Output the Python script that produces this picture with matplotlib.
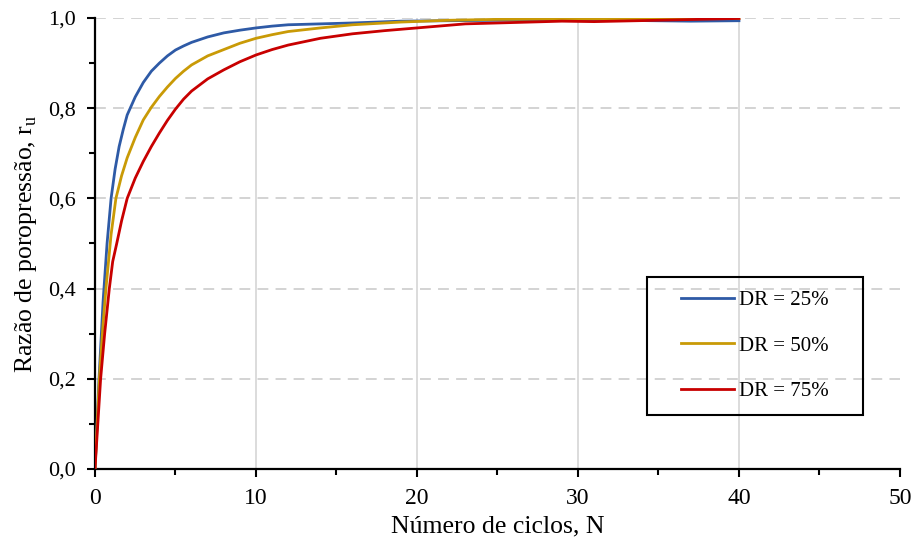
import matplotlib
matplotlib.use("Agg")
import matplotlib.pyplot as plt
from matplotlib.ticker import MultipleLocator, FuncFormatter
from matplotlib.patches import Rectangle

plt.rcParams['font.family'] = ['Liberation Serif', 'DejaVu Serif']
plt.rcParams['mathtext.fontset'] = 'custom'
plt.rcParams['mathtext.rm'] = 'Liberation Serif'

# DR = 25%
n_25 = [0, 0.1, 0.25, 0.5, 0.75, 1, 1.25, 1.5, 1.75, 2, 2.5, 3, 3.5, 4, 4.5, 5, 5.5, 6, 7, 8,
        9, 10, 11, 12, 14, 16, 19, 25, 30, 37, 40]
ru_25 = [0, 0.08, 0.2, 0.37, 0.5, 0.6, 0.665, 0.715, 0.752, 0.785, 0.825, 0.857, 0.882, 0.9,
         0.916, 0.929, 0.938, 0.946, 0.958, 0.967, 0.973, 0.978, 0.982, 0.985, 0.987, 0.989,
         0.993, 0.995, 0.996, 0.993, 0.994]
# DR = 50%
n_50 = [0, 0.27, 0.5, 0.68, 1.0, 1.3, 1.65, 2, 2.5, 3, 3.5, 4, 4.5, 5, 5.5, 6, 7, 8, 9, 10,
        11, 12, 14, 16, 19, 22, 25, 30, 35, 40]
ru_50 = [0, 0.2, 0.32, 0.4, 0.52, 0.6, 0.65, 0.69, 0.735, 0.774, 0.802, 0.826, 0.847, 0.866,
         0.882, 0.896, 0.916, 0.93, 0.944, 0.955, 0.963, 0.97, 0.978, 0.985, 0.991, 0.995,
         0.997, 0.998, 0.999, 0.999]
# DR = 75%
n_75 = [0, 0.35, 0.6, 0.89, 1.1, 1.35, 1.65, 2, 2.5, 3, 3.5, 4, 4.5, 5, 5.5, 6, 7, 8, 9, 10,
        11, 12, 14, 16, 18, 19, 20, 22, 23, 25, 29, 31, 35, 40]
ru_75 = [0, 0.2, 0.3, 0.4, 0.46, 0.5, 0.55, 0.6, 0.645, 0.682, 0.715, 0.745, 0.773, 0.798,
         0.82, 0.838, 0.865, 0.885, 0.903, 0.918, 0.93, 0.94, 0.955, 0.965, 0.972, 0.975,
         0.978, 0.984, 0.987, 0.989, 0.993, 0.992, 0.995, 0.999]

fig = plt.figure(figsize=(9.16, 5.44), dpi=100)
ax = fig.add_axes([0.1037, 0.1379, 0.8788, 0.829])

ax.plot(n_25, ru_25, color='#2E5AA6', lw=2, label='DR = 25%', zorder=3)
ax.plot(n_50, ru_50, color='#C99A06', lw=2, label='DR = 50%', zorder=3)
ax.plot(n_75, ru_75, color='#C80000', lw=2, label='DR = 75%', zorder=3)

ax.set_xlim(0, 50)
ax.set_ylim(0, 1)
ax.xaxis.set_major_locator(MultipleLocator(10))
ax.xaxis.set_minor_locator(MultipleLocator(5))
ax.yaxis.set_major_locator(MultipleLocator(0.2))
ax.yaxis.set_minor_locator(MultipleLocator(0.1))
ax.yaxis.set_major_formatter(FuncFormatter(lambda v, p: f'{v:.1f}'.replace('.', ',')))

# vertical solid / horizontal dashed gridlines, none on the axes edges
for xv in [10, 20, 30, 40]:
    ax.axvline(xv, color='#d9d9d9', lw=1.3, zorder=1)
for yv in [0.2, 0.4, 0.6, 0.8, 1.0]:
    ax.axhline(yv, color='#d0d0d0', lw=1.3, ls=(0, (6, 4)), zorder=1)

for s in ['top', 'right']:
    ax.spines[s].set_visible(False)
for s in ['left', 'bottom']:
    ax.spines[s].set_linewidth(1.6)
ax.tick_params(which='major', direction='out', length=6, width=1.5, labelsize=16)
ax.tick_params(which='minor', direction='out', length=4, width=1.5)
ax.tick_params(axis='x', which='major', pad=8, labelsize=17)
ax.tick_params(axis='y', which='major', pad=8)

ax.set_xlabel('Número de ciclos, N', fontsize=18.5, labelpad=4)
ax.set_ylabel(r'Razão de poropressão, r$_\mathregular{u}$', fontsize=18.5, labelpad=6)

leg = ax.legend(loc='center', bbox_to_anchor=(0.82, 0.273), frameon=False, fontsize=15,
                handlelength=2.55, handletextpad=0.25, labelspacing=1.25)
ax.add_patch(Rectangle((0.686, 0.12), 0.268, 0.306, transform=ax.transAxes,
                       fill=False, edgecolor='black', lw=1.5, zorder=5))

fig.savefig('out.png', dpi=100)
